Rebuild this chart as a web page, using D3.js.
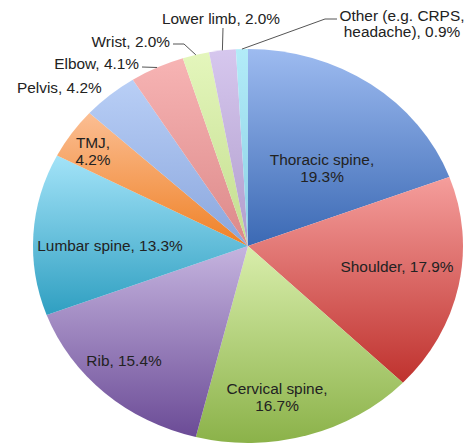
<!DOCTYPE html>
<html>
<head>
<meta charset="utf-8">
<script src="https://cdn.jsdelivr.net/npm/d3@7"></script>
<style>
  body { margin: 0; background: #fff; }
  svg text { font-family: "Liberation Sans", Arial, sans-serif; font-size: 15.4px; fill: #222; }
</style>
</head>
<body>
<script>
const categories = ['Thoracic spine', 'Shoulder', 'Cervical spine', 'Rib', 'Lumbar spine',
  'TMJ', 'Pelvis', 'Elbow', 'Wrist', 'Lower limb', 'Other (e.g. CRPS, headache)'];
const values = [19.3, 17.9, 16.7, 15.4, 13.3, 4.2, 4.2, 4.1, 2.0, 2.0, 0.9];

// gradient top / bottom colours per slice
const colorTop = ['#9dbbf0', '#f59e9c', '#d9eeac', '#c5b4df', '#a3e3f8', '#fbbe93', '#b9cff6', '#f7b4b4', '#e4f6bc', '#d6c7ee', '#b2ecf8'];
const colorBottom = ['#3b69b4', '#bf322e', '#8bb249', '#6b4b96', '#2f9fc1', '#ef8126', '#8aa6dd', '#dc8989', '#c3dd8e', '#b09dcc', '#8ccfe4'];

const W = 467, H = 447;
const cx = 248, cy = 246, rx = 215, ry = 197;

// label layout: text lines, anchor, position; optional leader points
const labelLayout = [
  { lines: ['Thoracic spine,', '19.3%'], anchor: 'middle', x: 322, y: 165 },
  { lines: ['Shoulder, 17.9%'], anchor: 'middle', x: 397, y: 272 },
  { lines: ['Cervical spine,', '16.7%'], anchor: 'middle', x: 277, y: 394 },
  { lines: ['Rib, 15.4%'], anchor: 'middle', x: 124, y: 366 },
  { lines: ['Lumbar spine, 13.3%'], anchor: 'middle', x: 110, y: 251 },
  { lines: ['TMJ,', '4.2%'], anchor: 'middle', x: 93, y: 148 },
  { lines: ['Pelvis, 4.2%'], anchor: 'start', x: 17, y: 93 },
  { lines: ['Elbow, 4.1%'], anchor: 'end', x: 139, y: 69, leader: [[142, 67]] },
  { lines: ['Wrist, 2.0%'], anchor: 'end', x: 170, y: 47, leader: [[184, 44], [173, 44]] },
  { lines: ['Lower limb, 2.0%'], anchor: 'middle', x: 221, y: 24, leader: [[223, 28]] },
  { lines: ['Other (e.g. CRPS,', 'headache), 0.9%'], anchor: 'middle', x: 402, y: 20.5, leader: [[325, 19], [337, 19]] }
];

const svg = d3.select('body').append('svg')
  .attr('width', W)
  .attr('height', H);

const defs = svg.append('defs');
categories.forEach((c, i) => {
  const grad = defs.append('linearGradient')
    .attr('id', 'grad' + i)
    .attr('x1', 0).attr('y1', 0).attr('x2', 0).attr('y2', 1);
  grad.append('stop').attr('offset', '0%').attr('stop-color', colorTop[i]);
  grad.append('stop').attr('offset', '100%').attr('stop-color', colorBottom[i]);
});

const pie = d3.pie().sort(null).value(d => d);
const arcs = pie(values);
const arc = d3.arc().innerRadius(0).outerRadius(ry);

const g = svg.append('g')
  .attr('transform', `translate(${cx},${cy}) scale(${rx / ry},1)`);

g.selectAll('path')
  .data(arcs)
  .enter()
  .append('path')
  .attr('d', arc)
  .attr('fill', (d, i) => `url(#grad${i})`);

// leader lines
arcs.forEach((a, i) => {
  const lay = labelLayout[i];
  if (!lay.leader) return;
  const mid = (a.startAngle + a.endAngle) / 2;
  const start = [cx + rx * Math.sin(mid), cy - ry * Math.cos(mid)];
  const pts = [start].concat(lay.leader);
  svg.append('path')
    .attr('d', d3.line()(pts))
    .attr('fill', 'none')
    .attr('stroke', '#555')
    .attr('stroke-width', 1);
});

// labels
labelLayout.forEach(lay => {
  const t = svg.append('text')
    .attr('text-anchor', lay.anchor);
  lay.lines.forEach((ln, j) => {
    t.append('tspan')
      .attr('x', lay.x)
      .attr('y', lay.y + j * 16.5)
      .text(ln);
  });
});
</script>
</body>
</html>
